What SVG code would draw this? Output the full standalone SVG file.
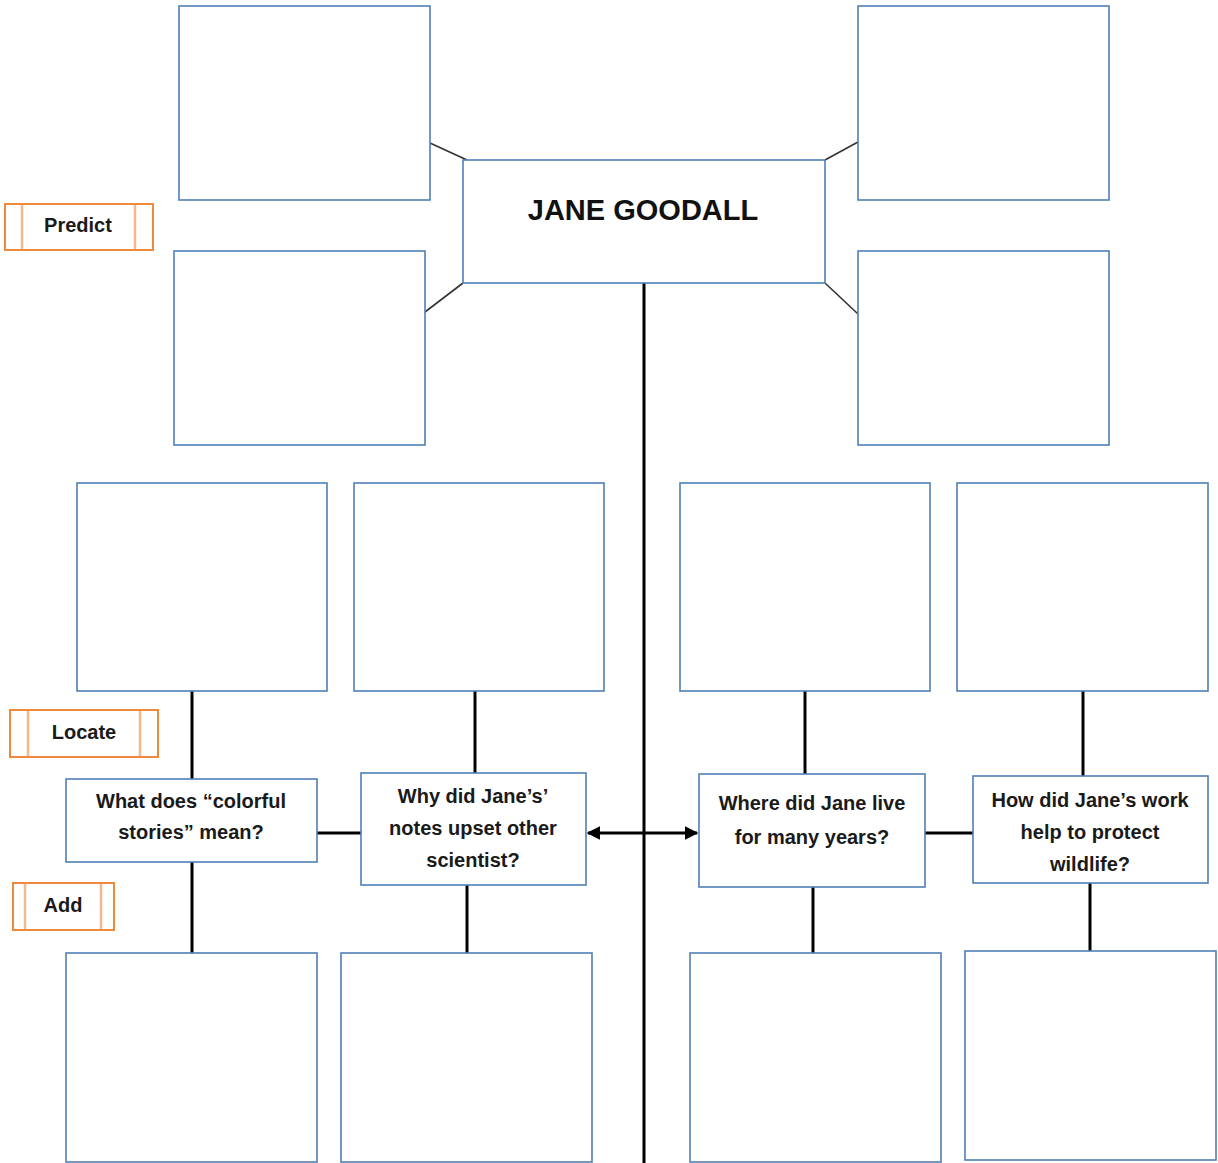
<svg xmlns="http://www.w3.org/2000/svg" width="1218" height="1163" viewBox="0 0 1218 1163">
  <style>
    .box { fill: #ffffff; stroke: #4f7fb8; stroke-width: 1.6; }
    .tag { fill: #ffffff; stroke: #ef8a3c; stroke-width: 2; }
    .tagbar { stroke: #f5b88c; stroke-width: 2.5; }
    .link { stroke: #000000; stroke-width: 3; fill: none; }
    .thin { stroke: #333333; stroke-width: 1.6; fill: none; }
    .q { font-family: "Liberation Sans", Arial, sans-serif; font-weight: bold; font-size: 20px; fill: #1a1a1a; text-anchor: middle; }
    .title { font-family: "Liberation Sans", Arial, sans-serif; font-weight: bold; font-size: 29px; fill: #111111; text-anchor: middle; }
  </style>
  <defs>
    <marker id="arrow" viewBox="0 0 10 10" refX="9" refY="5" markerWidth="4.5" markerHeight="4.5" orient="auto-start-reverse" markerUnits="strokeWidth">
      <path d="M0,0 L10,5 L0,10 z" fill="#000000"/>
    </marker>
  </defs>
  <rect width="1218" height="1163" fill="#ffffff"/>

  <!-- connectors -->
  <g id="connectors">
    <line class="thin" x1="430" y1="143" x2="467" y2="160"/>
    <line class="thin" x1="825" y1="160" x2="858" y2="142"/>
    <line class="thin" x1="425" y1="312" x2="463" y2="283"/>
    <line class="thin" x1="825" y1="283" x2="858" y2="314"/>
    <line class="link" x1="644" y1="283" x2="644" y2="1163"/>
    <line class="link" x1="192" y1="691" x2="192" y2="779"/>
    <line class="link" x1="192" y1="862" x2="192" y2="953"/>
    <line class="link" x1="475" y1="691" x2="475" y2="773"/>
    <line class="link" x1="467" y1="885" x2="467" y2="953"/>
    <line class="link" x1="805" y1="691" x2="805" y2="774"/>
    <line class="link" x1="813" y1="887" x2="813" y2="953"/>
    <line class="link" x1="1083" y1="691" x2="1083" y2="776"/>
    <line class="link" x1="1090" y1="883" x2="1090" y2="951"/>
    <line class="link" x1="317" y1="833" x2="361" y2="833"/>
    <line class="link" x1="925" y1="833" x2="973" y2="833"/>
    <line class="link" x1="588" y1="833" x2="697" y2="833" marker-start="url(#arrow)" marker-end="url(#arrow)"/>
  </g>

  <!-- central title -->
  <g id="node-title">
    <rect class="box" x="463" y="160" width="362" height="123"/>
    <text class="title" x="643" y="220">JANE GOODALL</text>
  </g>

  <!-- prediction boxes -->
  <g id="node-predict-1"><rect class="box" x="179" y="6" width="251" height="194"/></g>
  <g id="node-predict-2"><rect class="box" x="858" y="6" width="251" height="194"/></g>
  <g id="node-predict-3"><rect class="box" x="174" y="251" width="251" height="194"/></g>
  <g id="node-predict-4"><rect class="box" x="858" y="251" width="251" height="194"/></g>

  <!-- locate boxes -->
  <g id="node-locate-1"><rect class="box" x="77" y="483" width="250" height="208"/></g>
  <g id="node-locate-2"><rect class="box" x="354" y="483" width="250" height="208"/></g>
  <g id="node-locate-3"><rect class="box" x="680" y="483" width="250" height="208"/></g>
  <g id="node-locate-4"><rect class="box" x="957" y="483" width="251" height="208"/></g>

  <!-- questions -->
  <g id="node-q1">
    <rect class="box" x="66" y="779" width="251" height="83"/>
    <text class="q" x="191" y="808">What does “colorful</text>
    <text class="q" x="191" y="839">stories” mean?</text>
  </g>
  <g id="node-q2">
    <rect class="box" x="361" y="773" width="225" height="112"/>
    <text class="q" x="473" y="803">Why did Jane’s’</text>
    <text class="q" x="473" y="835">notes upset other</text>
    <text class="q" x="473" y="867">scientist?</text>
  </g>
  <g id="node-q3">
    <rect class="box" x="699" y="774" width="226" height="113"/>
    <text class="q" x="812" y="810">Where did Jane live</text>
    <text class="q" x="812" y="844">for many years?</text>
  </g>
  <g id="node-q4">
    <rect class="box" x="973" y="776" width="235" height="107"/>
    <text class="q" x="1090" y="807">How did Jane’s work</text>
    <text class="q" x="1090" y="839">help to protect</text>
    <text class="q" x="1090" y="871">wildlife?</text>
  </g>

  <!-- add boxes -->
  <g id="node-add-1"><rect class="box" x="66" y="953" width="251" height="209"/></g>
  <g id="node-add-2"><rect class="box" x="341" y="953" width="251" height="209"/></g>
  <g id="node-add-3"><rect class="box" x="690" y="953" width="251" height="209"/></g>
  <g id="node-add-4"><rect class="box" x="965" y="951" width="251" height="209"/></g>

  <!-- step tags -->
  <g id="tag-predict">
    <rect class="tag" x="5" y="204" width="148" height="46"/>
    <line class="tagbar" x1="22" y1="205" x2="22" y2="249"/>
    <line class="tagbar" x1="135" y1="205" x2="135" y2="249"/>
    <text class="q" x="78" y="232">Predict</text>
  </g>
  <g id="tag-locate">
    <rect class="tag" x="10" y="710" width="148" height="47"/>
    <line class="tagbar" x1="28" y1="711" x2="28" y2="756"/>
    <line class="tagbar" x1="140" y1="711" x2="140" y2="756"/>
    <text class="q" x="84" y="739">Locate</text>
  </g>
  <g id="tag-add">
    <rect class="tag" x="13" y="883" width="101" height="47"/>
    <line class="tagbar" x1="25" y1="884" x2="25" y2="929"/>
    <line class="tagbar" x1="101" y1="884" x2="101" y2="929"/>
    <text class="q" x="63" y="912">Add</text>
  </g>
</svg>
